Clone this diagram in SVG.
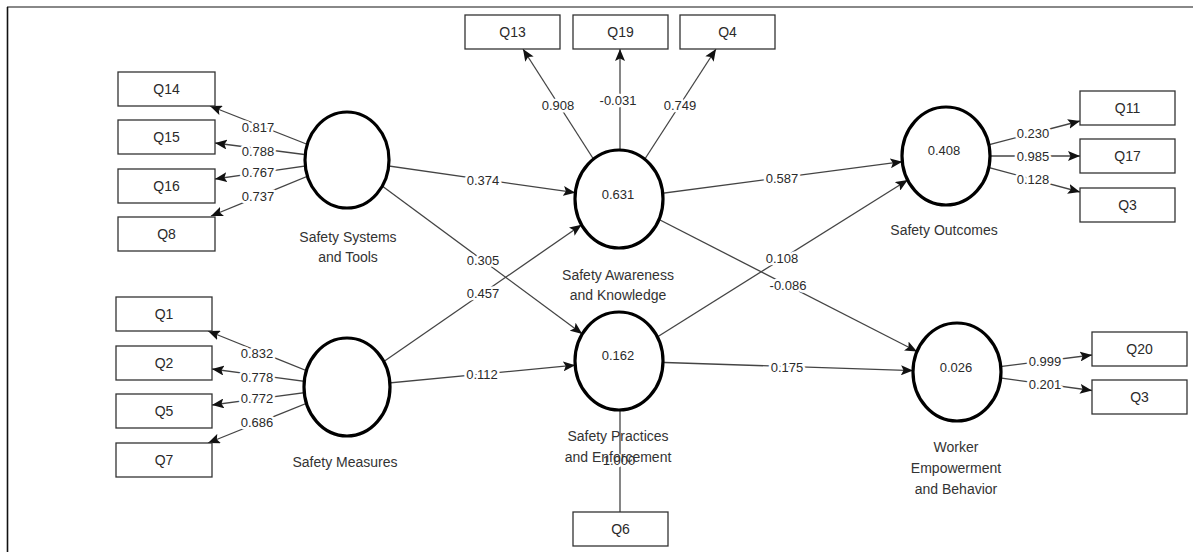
<svg xmlns="http://www.w3.org/2000/svg" width="1193" height="552" viewBox="0 0 1193 552">
<style>
.ln{stroke:#444;stroke-width:1.3;fill:none}
.arr{marker-end:url(#ah)}
.lat{fill:#fff;stroke:#000;stroke-width:3.2}
.box{fill:#fff;stroke:#333;stroke-width:1.3}
.t{font-family:"Liberation Sans",Arial,sans-serif;fill:#2a2a2a;text-anchor:middle}
.v{font-size:13px;stroke:#fff;stroke-width:5;paint-order:stroke;stroke-linejoin:round}
.bx{font-size:14px}
.nm{font-size:14px;fill:#333}
.r2{font-size:13px}
</style>
<defs>
<marker id="ah" markerUnits="userSpaceOnUse" markerWidth="12" markerHeight="10" viewBox="0 0 12 10" refX="12" refY="5" orient="auto">
<path d="M0,0 L12,5 L0,10 L2.5,5 z" fill="#111"/>
</marker>
</defs>
<rect x="0" y="0" width="1193" height="552" fill="#fff"/>
<line x1="7" y1="7" x2="1193" y2="7" stroke="#888" stroke-width="2"/>
<line x1="7.5" y1="7" x2="7.5" y2="552" stroke="#111" stroke-width="1.6"/>

<g id="connectors">
<!-- outer: Safety Systems and Tools -->
<line class="ln arr" x1="347" y1="160" x2="210" y2="106"/>
<line class="ln arr" x1="347" y1="160" x2="215" y2="143"/>
<line class="ln arr" x1="347" y1="160" x2="215" y2="179"/>
<line class="ln arr" x1="347" y1="160" x2="211" y2="216"/>
<!-- outer: Safety Measures -->
<line class="ln arr" x1="347" y1="387" x2="208" y2="331"/>
<line class="ln arr" x1="347" y1="387" x2="212" y2="369"/>
<line class="ln arr" x1="347" y1="387" x2="212" y2="405"/>
<line class="ln arr" x1="347" y1="387" x2="208" y2="443"/>
<!-- outer: Safety Awareness -->
<line class="ln arr" x1="619" y1="199" x2="523" y2="49"/>
<line class="ln arr" x1="620" y1="199" x2="620" y2="49"/>
<line class="ln arr" x1="619" y1="199" x2="716" y2="49"/>
<!-- outer: Safety Outcomes -->
<line class="ln arr" x1="946" y1="156" x2="1080" y2="121"/>
<line class="ln arr" x1="946" y1="156" x2="1080" y2="156"/>
<line class="ln arr" x1="946" y1="156" x2="1080" y2="192"/>
<!-- outer: Worker Empowerment -->
<line class="ln arr" x1="957" y1="372" x2="1092" y2="355"/>
<line class="ln arr" x1="957" y1="372" x2="1092" y2="390.5"/>
<!-- outer: Safety Practices -->
<line class="ln" x1="620" y1="361" x2="620" y2="512"/>
<!-- structural -->
<line class="ln arr" x1="347" y1="160" x2="575.3" y2="192.7"/>
<line class="ln arr" x1="347" y1="160" x2="582.3" y2="333.9"/>
<line class="ln arr" x1="347" y1="387" x2="581.6" y2="224.8"/>
<line class="ln arr" x1="347" y1="387" x2="575.2" y2="365.2"/>
<line class="ln arr" x1="619" y1="199" x2="902.3" y2="161.7"/>
<line class="ln arr" x1="619" y1="199" x2="917" y2="351.5"/>
<line class="ln arr" x1="619" y1="361" x2="907.7" y2="180"/>
<line class="ln arr" x1="619" y1="361" x2="913" y2="370.6"/>
<!-- values -->
<text class="t v" x="258" y="132">0.817</text>
<text class="t v" x="258" y="156">0.788</text>
<text class="t v" x="258" y="177">0.767</text>
<text class="t v" x="258" y="201">0.737</text>
<text class="t v" x="257" y="358">0.832</text>
<text class="t v" x="257" y="382">0.778</text>
<text class="t v" x="257" y="403">0.772</text>
<text class="t v" x="257" y="427">0.686</text>
<text class="t v" x="558" y="110">0.908</text>
<text class="t v" x="618" y="105">-0.031</text>
<text class="t v" x="680" y="110">0.749</text>
<text class="t v" x="1033" y="138">0.230</text>
<text class="t v" x="1033" y="161">0.985</text>
<text class="t v" x="1033" y="184">0.128</text>
<text class="t v" x="1045" y="366">0.999</text>
<text class="t v" x="1045" y="389">0.201</text>
<text class="t v" x="619" y="465">1.000</text>
<text class="t v" x="483" y="185">0.374</text>
<text class="t v" x="483" y="265">0.305</text>
<text class="t v" x="483" y="298">0.457</text>
<text class="t v" x="482" y="379">0.112</text>
<text class="t v" x="782" y="183">0.587</text>
<text class="t v" x="782" y="263">0.108</text>
<text class="t v" x="788" y="290">-0.086</text>
<text class="t v" x="787" y="372">0.175</text>
</g>

<g id="safety-systems-and-tools">
<ellipse class="lat" cx="347" cy="160" rx="42" ry="48"/>
<text class="t nm" x="348" y="242">Safety Systems</text>
<text class="t nm" x="348" y="262">and Tools</text>
</g>
<g id="safety-measures">
<ellipse class="lat" cx="347" cy="387" rx="43" ry="49"/>
<text class="t nm" x="345" y="467">Safety Measures</text>
</g>
<g id="safety-awareness-and-knowledge">
<ellipse class="lat" cx="619" cy="199" rx="44" ry="49"/>
<text class="t r2" x="618" y="199">0.631</text>
<text class="t nm" x="618" y="280">Safety Awareness</text>
<text class="t nm" x="618" y="300">and Knowledge</text>
</g>
<g id="safety-practices-and-enforcement">
<ellipse class="lat" cx="619" cy="361" rx="44" ry="49"/>
<text class="t r2" x="618" y="360">0.162</text>
<text class="t nm" x="618" y="441">Safety Practices</text>
<text class="t nm" x="618" y="462">and Enforcement</text>
</g>
<g id="safety-outcomes">
<ellipse class="lat" cx="946" cy="156" rx="44" ry="49"/>
<text class="t r2" x="944" y="155">0.408</text>
<text class="t nm" x="944" y="235">Safety Outcomes</text>
</g>
<g id="worker-empowerment-and-behavior">
<ellipse class="lat" cx="957" cy="372" rx="44" ry="49"/>
<text class="t r2" x="956" y="372">0.026</text>
<text class="t nm" x="956" y="452">Worker</text>
<text class="t nm" x="956" y="473">Empowerment</text>
<text class="t nm" x="956" y="494">and Behavior</text>
</g>

<g id="Q14"><rect class="box" x="118" y="72" width="97" height="34"/><text class="t bx" x="166.5" y="94">Q14</text></g>
<g id="Q15"><rect class="box" x="118" y="120" width="97" height="34"/><text class="t bx" x="166.5" y="142">Q15</text></g>
<g id="Q16"><rect class="box" x="118" y="169" width="97" height="34"/><text class="t bx" x="166.5" y="191">Q16</text></g>
<g id="Q8"><rect class="box" x="118" y="217" width="97" height="34"/><text class="t bx" x="166.5" y="239">Q8</text></g>
<g id="Q1"><rect class="box" x="116" y="297" width="96" height="34"/><text class="t bx" x="164" y="319">Q1</text></g>
<g id="Q2"><rect class="box" x="116" y="346" width="96" height="34"/><text class="t bx" x="164" y="368">Q2</text></g>
<g id="Q5"><rect class="box" x="116" y="394" width="96" height="34"/><text class="t bx" x="164" y="416">Q5</text></g>
<g id="Q7"><rect class="box" x="116" y="443" width="96" height="34"/><text class="t bx" x="164" y="465">Q7</text></g>
<g id="Q13"><rect class="box" x="465" y="15" width="95" height="34"/><text class="t bx" x="512.5" y="37">Q13</text></g>
<g id="Q19"><rect class="box" x="573" y="15" width="95" height="34"/><text class="t bx" x="620.5" y="37">Q19</text></g>
<g id="Q4"><rect class="box" x="680" y="15" width="95" height="34"/><text class="t bx" x="727.5" y="37">Q4</text></g>
<g id="Q11"><rect class="box" x="1080" y="91" width="95" height="34"/><text class="t bx" x="1127.5" y="113">Q11</text></g>
<g id="Q17"><rect class="box" x="1080" y="139" width="95" height="34"/><text class="t bx" x="1127.5" y="161">Q17</text></g>
<g id="Q3-outcomes"><rect class="box" x="1080" y="188" width="95" height="34"/><text class="t bx" x="1127.5" y="210">Q3</text></g>
<g id="Q20"><rect class="box" x="1092" y="332" width="95" height="34"/><text class="t bx" x="1139.5" y="354">Q20</text></g>
<g id="Q3-worker"><rect class="box" x="1092" y="380" width="95" height="34"/><text class="t bx" x="1139.5" y="402">Q3</text></g>
<g id="Q6"><rect class="box" x="573" y="512" width="95" height="34"/><text class="t bx" x="620.5" y="534">Q6</text></g>
</svg>
